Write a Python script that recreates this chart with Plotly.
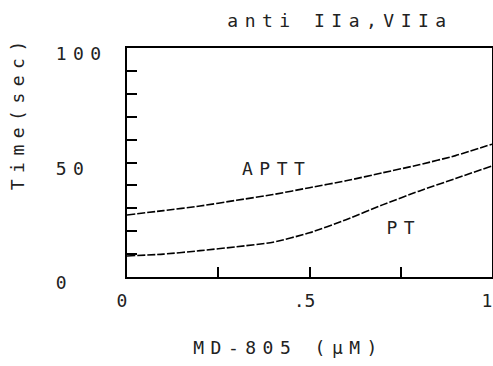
import plotly.graph_objects as go

# Data
conc = [0, 0.1, 0.2, 0.3, 0.4, 0.5, 0.6, 0.7, 0.8, 0.9, 1.0]
aptt = [27.1, 29.0, 31.0, 33.5, 36.0, 39.0, 42.0, 45.5, 49.0, 53.0, 58.0]
pt = [9.2, 10.0, 11.5, 13.2, 15.2, 19.3, 25.0, 31.5, 37.5, 43.0, 48.5]

x_tickvals = [0, 0.25, 0.5, 0.75, 1.0]
x_ticktext = ["0", "", ".5", "", "1"]
y_tickvals = [0, 10, 20, 30, 40, 50, 60, 70, 80, 90, 100]
y_labels = {0: "0\u00a0\u00a0", 50: "50\u00a0", 100: "100"}
y_ticktext = [y_labels.get(v, "") for v in y_tickvals]

title_text = "anti IIa,VIIa"
x_title = "MD-805 (μM)"
y_title = "Time(sec)"

FONT = "DejaVu Sans Mono"
TXT = "#222222"

fig = go.Figure()
for name, ys in [("APTT", aptt), ("PT", pt)]:
    fig.add_trace(go.Scatter(
        x=conc, y=ys, mode="lines", name=name,
        line=dict(color="black", width=1.6, shape="spline", smoothing=0.6, dash="8px,2px"),
        showlegend=False, hoverinfo="skip",
    ))

fig.update_layout(
    width=493, height=366,
    margin=dict(l=127, r=1, t=48, b=89, autoexpand=False),
    paper_bgcolor="white", plot_bgcolor="white",
    font=dict(family=FONT, size=18, color=TXT),
    title=dict(text=title_text, x=340 / 493, xref="container", xanchor="center",
               y=1 - 21 / 366, yref="container", yanchor="middle",
               font=dict(family=FONT, size=18, color=TXT)),
)

fig.update_xaxes(
    range=[0, 1], tickvals=x_tickvals, ticktext=x_ticktext,
    ticks="inside", ticklen=10, tickwidth=1.5, tickcolor="black",
    showline=True, linecolor="black", linewidth=1.5, mirror=True,
    showgrid=False, zeroline=False, ticklabelstandoff=7, ticklabelshift=-5,
    automargin=False, ticklabeloverflow="allow",
)
fig.update_yaxes(
    range=[0, 100], tickvals=y_tickvals, ticktext=y_ticktext,
    ticks="inside", ticklen=10, tickwidth=1.5, tickcolor="black",
    showline=True, linecolor="black", linewidth=1.5, mirror=True,
    showgrid=False, zeroline=False, ticklabelstandoff=14, ticklabelshift=6,
    automargin=False,
)

# curve labels
fig.add_annotation(x=0.41, y=47.2, xref="x", yref="y", text="APTT", showarrow=False,
                   font=dict(family=FONT, size=18, color=TXT))
fig.add_annotation(x=0.76, y=21.4, xref="x", yref="y", text="PT", showarrow=False,
                   font=dict(family=FONT, size=18, color=TXT))
# axis titles
fig.add_annotation(x=(288 - 127) / 365, y=(277 - 347) / 229, xref="paper", yref="paper",
                   text=x_title, showarrow=False, xanchor="center", yanchor="middle",
                   font=dict(family=FONT, size=18, color=TXT))
fig.add_annotation(x=(17 - 127) / 365, y=(277 - 112) / 229, xref="paper", yref="paper",
                   text=y_title, showarrow=False, textangle=-90, xanchor="center", yanchor="middle",
                   font=dict(family=FONT, size=18, color=TXT))

post = ("var s=document.createElement('style');"
        "s.innerHTML='.main-svg text{letter-spacing:6.5px !important;}"
        " .main-svg .xtick text{letter-spacing:0px !important;}';"
        "document.head.appendChild(s);")
fig.write_html("out.html", post_script=post)
